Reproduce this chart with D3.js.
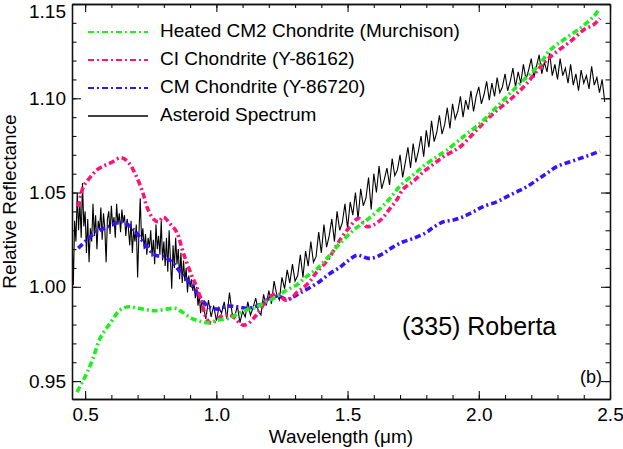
<!DOCTYPE html>
<html>
<head>
<meta charset="utf-8">
<script src="https://cdn.jsdelivr.net/npm/d3@7/dist/d3.min.js"></script>
<style>
body { margin:0; background:#fff; }
svg { display:block; }
</style>
</head>
<body>
<div id="graph"></div>
<script>
// lab spectra, [wavelength um, relative reflectance]
var heatedCM2 = [[0.469,0.9442],[0.490,0.9496],[0.509,0.955],[0.530,0.962],[0.557,0.9727],[0.595,0.9806],[0.633,0.9877],[0.665,0.9894],[0.703,0.9886],[0.740,0.9877],[0.766,0.9873],[0.804,0.988],[0.842,0.9886],[0.868,0.9868],[0.906,0.9833],[0.944,0.9815],[0.970,0.981],[1.008,0.9824],[1.052,0.9835],[1.084,0.9859],[1.116,0.9877],[1.154,0.9894],[1.192,0.9921],[1.230,0.9947],[1.268,0.9983],[1.306,1.001],[1.344,1.0055],[1.383,1.0095],[1.421,1.015],[1.471,1.023],[1.522,1.030],[1.573,1.0354],[1.624,1.0415],[1.662,1.047],[1.700,1.0535],[1.751,1.0595],[1.789,1.064],[1.840,1.069],[1.878,1.0725],[1.941,1.0796],[2.005,1.0867],[2.069,1.0955],[2.132,1.1044],[2.183,1.1114],[2.234,1.1185],[2.272,1.1256],[2.322,1.1309],[2.386,1.1371],[2.437,1.1433],[2.462,1.1477]];

var ciY86162 = [[0.474,1.0425],[0.493,1.053],[0.519,1.058],[0.545,1.062],[0.569,1.064],[0.601,1.066],[0.637,1.0685],[0.665,1.066],[0.697,1.058],[0.722,1.049],[0.735,1.0425],[0.760,1.036],[0.779,1.0345],[0.798,1.037],[0.823,1.0335],[0.849,1.029],[0.874,1.018],[0.906,1.006],[0.925,1.0],[0.944,0.992],[0.963,0.983],[0.982,0.9806],[1.001,0.9824],[1.027,0.985],[1.052,0.985],[1.071,0.9833],[1.090,0.9806],[1.103,0.9797],[1.122,0.9806],[1.147,0.9841],[1.166,0.9877],[1.186,0.992],[1.211,0.9955],[1.236,0.996],[1.262,0.993],[1.287,0.994],[1.306,0.997],[1.331,0.9995],[1.357,1.003],[1.383,1.008],[1.408,1.0115],[1.433,1.016],[1.471,1.0248],[1.509,1.0319],[1.541,1.0363],[1.573,1.032],[1.598,1.0328],[1.630,1.036],[1.662,1.0416],[1.687,1.046],[1.713,1.052],[1.751,1.056],[1.789,1.061],[1.827,1.065],[1.865,1.069],[1.929,1.0743],[1.992,1.0832],[2.056,1.092],[2.132,1.1008],[2.183,1.1079],[2.246,1.1185],[2.297,1.1247],[2.348,1.13],[2.399,1.1362],[2.437,1.139],[2.462,1.1424]];

var cmY86720 = [[0.474,1.0204],[0.506,1.0248],[0.544,1.0292],[0.582,1.0315],[0.637,1.0345],[0.665,1.0328],[0.697,1.0284],[0.735,1.0212],[0.767,1.0168],[0.798,1.016],[0.830,1.0133],[0.862,1.008],[0.900,1.0018],[0.938,0.9947],[0.970,0.9894],[1.008,0.9882],[1.040,0.9898],[1.078,0.9894],[1.116,0.9886],[1.147,0.9894],[1.179,0.9915],[1.211,0.9947],[1.243,0.9947],[1.268,0.9933],[1.293,0.9947],[1.319,0.9968],[1.357,0.9996],[1.395,1.003],[1.433,1.0071],[1.471,1.0104],[1.497,1.0133],[1.535,1.0168],[1.554,1.0163],[1.579,1.0151],[1.605,1.0156],[1.636,1.0177],[1.674,1.0212],[1.713,1.0239],[1.751,1.0257],[1.795,1.0284],[1.827,1.0315],[1.865,1.0345],[1.903,1.0354],[1.941,1.0372],[1.979,1.0398],[2.017,1.0425],[2.068,1.0451],[2.107,1.0478],[2.145,1.0504],[2.183,1.0531],[2.221,1.0566],[2.259,1.0602],[2.297,1.0637],[2.348,1.0663],[2.386,1.0681],[2.424,1.0699],[2.462,1.072]];

// asteroid spectrum: visible part (0.450 um, every 0.005 um)
var asteroidVisStart = 0.45, asteroidVisStep = 0.005;
var asteroidVis = [
  1.028,1.001,1.035,1.024,1.050,1.030,1.045,1.026,1.055,1.032,
  1.040,1.018,1.036,1.013,1.031,1.024,1.044,1.027,1.038,1.020,
  1.035,1.030,1.042,1.025,1.039,1.031,1.013,1.036,1.040,1.028,
  1.043,1.032,1.037,1.026,1.044,1.033,1.039,1.029,1.041,1.034,
  1.038,1.027,1.036,1.031,1.022,1.035,1.018,1.030,1.024,1.033,
  1.005,1.028,1.047,1.025,1.031,1.020,1.028,1.017,1.026,1.021,
  1.030,1.016,1.025,1.012,1.033,1.020,1.027,1.017,1.035,1.014,
  1.024,1.011,1.026,1.008,1.030,1.015,0.999,1.022,1.010,1.026,
  1.012,1.020,1.004,1.018,1.002,1.014,1.003,1.010,0.997,1.006,
  1.000,1.004,0.998,1.002,0.994,1.000,0.990,0.996,0.986,0.993];
// near-infrared part (0.95 um, every 0.01 um)
var asteroidNirStart = 0.95, asteroidNirStep = 0.01;
var asteroidNir = [
  0.990,0.983,0.993,0.984,0.990,  0.982,0.989,0.986,0.992,0.983,
  0.997,0.986,0.984,0.990,0.981,  0.987,0.984,0.992,0.985,0.989,
  0.994,0.987,0.985,0.996,0.990,  0.998,0.991,1.003,0.996,0.993,
  1.005,0.999,1.009,1.002,1.012,  1.003,1.006,1.017,1.005,1.019,
  1.011,1.024,1.013,1.016,1.029,  1.018,1.033,1.021,1.027,1.036,
  1.024,1.040,1.030,1.034,1.044,  1.031,1.045,1.038,1.050,1.036,
  1.052,1.043,1.047,1.058,1.041,  1.060,1.050,1.064,1.052,1.057,
  1.063,1.054,1.068,1.059,1.062,  1.070,1.058,1.066,1.074,1.063,
  1.076,1.066,1.072,1.080,1.069,  1.083,1.074,1.088,1.077,1.082,
  1.091,1.081,1.086,1.095,1.084,  1.097,1.089,1.093,1.101,1.090,
  1.099,1.094,1.104,1.093,1.101,  1.106,1.097,1.102,1.109,1.099,
  1.108,1.101,1.111,1.103,1.106,  1.113,1.104,1.109,1.116,1.106,
  1.114,1.108,1.118,1.110,1.115,  1.121,1.111,1.117,1.123,1.113,
  1.119,1.114,1.124,1.112,1.118,  1.110,1.121,1.112,1.116,1.108,
  1.118,1.107,1.113,1.104,1.115,  1.108,1.112,1.105,1.117,1.107,
  1.111,1.103,1.110,1.098];

var seriesNames = ["Heated CM2 Chondrite (Murchison)", "CI Chondrite (Y-86162)", "CM Chondrite (Y-86720)", "Asteroid Spectrum"];
var seriesColors = ["#1ef01e", "#ff1475", "#3a10ff", "#000000"];
var xTicks = [0.5, 1.0, 1.5, 2.0, 2.5];
var yTicks = [0.95, 1.00, 1.05, 1.10, 1.15];
var objectName = "(335) Roberta";
var panelLabel = "(b)";

var width = 623, height = 449;
var margin = {top:4, left:72, bottom:50, right:13};
var font = "'Liberation Sans', Arial, Helvetica, sans-serif";

var svg = d3.select("#graph").append("svg").attr("width", width).attr("height", height)
    .style("font-family", font);

var x = d3.scaleLinear().domain([0.45, 2.5]).range([margin.left, width - margin.right]);
var y = d3.scaleLinear().domain([0.9405, 1.15]).range([height - margin.bottom, margin.top]);

svg.append("clipPath").attr("id", "plotclip").append("rect")
    .attr("x", x.range()[0]).attr("y", y.range()[1])
    .attr("width", x.range()[1] - x.range()[0]).attr("height", y.range()[0] - y.range()[1]);

var asteroid = asteroidVis.map(function(r, i) { return [asteroidVisStart + i * asteroidVisStep, r] })
    .concat(asteroidNir.map(function(r, i) { return [asteroidNirStart + i * asteroidNirStep, r] }));

var smooth = d3.line().x(function(d) { return x(d[0]) }).y(function(d) { return y(d[1]) }).curve(d3.curveCatmullRom);
var raw = d3.line().x(function(d) { return x(d[0]) }).y(function(d) { return y(d[1]) });

var plot = svg.append("g").attr("clip-path", "url(#plotclip)");
var dash = "6,3,2,3";

plot.append("path").datum(asteroid).attr("d", raw)
    .attr("fill", "none").attr("stroke", seriesColors[3]).attr("stroke-width", 1.1);

[[cmY86720, 2], [ciY86162, 1], [heatedCM2, 0]].forEach(function(s) {
    plot.append("path").datum(s[0]).attr("d", smooth)
        .attr("fill", "none").attr("stroke", seriesColors[s[1]])
        .attr("stroke-width", 3.6).attr("stroke-dasharray", dash);
});

// axes, ticks pointing inward
var xMinor = d3.range(5, 26).map(function(d) { return d / 10 });
var yMinor = d3.range(95, 116).map(function(d) { return d / 100 });

function styleAxis(g) {
    g.attr("font-size", 19).attr("font-family", font);
    g.selectAll("line").attr("stroke", "#111").attr("stroke-width", 1.1);
    g.selectAll(".domain").attr("stroke", "#111").attr("stroke-width", 1.3);
    g.selectAll("text").attr("fill", "#000");
}

var y0 = y.range()[0], y1 = y.range()[1], x0 = x.range()[0], x1 = x.range()[1];

svg.append("g").attr("transform", "translate(0," + y0 + ")")
    .call(d3.axisBottom(x).tickValues(xMinor).tickFormat("").tickSize(-4).tickSizeOuter(0)).call(styleAxis);
svg.append("g").attr("transform", "translate(0," + y0 + ")")
    .call(d3.axisBottom(x).tickValues(xTicks).tickFormat(d3.format(".1f")).tickSize(-8).tickSizeOuter(0).tickPadding(9)).call(styleAxis);
svg.append("g").attr("transform", "translate(0," + y1 + ")")
    .call(d3.axisTop(x).tickValues(xMinor).tickFormat("").tickSize(-4).tickSizeOuter(0)).call(styleAxis);
svg.append("g").attr("transform", "translate(0," + y1 + ")")
    .call(d3.axisTop(x).tickValues(xTicks).tickFormat("").tickSize(-8).tickSizeOuter(0)).call(styleAxis);

svg.append("g").attr("transform", "translate(" + x0 + ",0)")
    .call(d3.axisLeft(y).tickValues(yMinor).tickFormat("").tickSize(-4.5).tickSizeOuter(0)).call(styleAxis);
var yAxisG = svg.append("g").attr("transform", "translate(" + x0 + ",0)")
    .call(d3.axisLeft(y).tickValues(yTicks).tickFormat(d3.format(".2f")).tickSize(-9).tickSizeOuter(0).tickPadding(6)).call(styleAxis);
yAxisG.selectAll("text").filter(function(d) { return d === 1.15 }).attr("dy", "0.72em");
svg.append("g").attr("transform", "translate(" + x1 + ",0)")
    .call(d3.axisRight(y).tickValues(yMinor).tickFormat("").tickSize(-4.5).tickSizeOuter(0)).call(styleAxis);
svg.append("g").attr("transform", "translate(" + x1 + ",0)")
    .call(d3.axisRight(y).tickValues(yTicks).tickFormat("").tickSize(-9).tickSizeOuter(0)).call(styleAxis);

// axis titles
svg.append("text").attr("x", (x0 + x1) / 2).attr("y", 443).attr("text-anchor", "middle")
    .attr("font-size", 19).text("Wavelength (\u03bcm)");
svg.append("text").attr("transform", "translate(16," + ((y0 + y1) / 2) + ") rotate(-90)")
    .attr("text-anchor", "middle").attr("font-size", 19).text("Relative Reflectance");

// legend
var legend = svg.append("g");
seriesNames.forEach(function(name, i) {
    var ly = 32 + i * 28;
    legend.append("line").attr("x1", 88).attr("x2", 148).attr("y1", ly).attr("y2", ly)
        .attr("stroke", seriesColors[i]).attr("stroke-width", i === 3 ? 1.6 : 2.2)
        .attr("stroke-dasharray", i === 3 ? null : dash);
    legend.append("text").attr("x", 160).attr("y", ly + 5).attr("font-size", 19).text(name);
});

svg.append("text").attr("x", 402).attr("y", 335).attr("font-size", 25).text(objectName);
svg.append("text").attr("x", 580).attr("y", 383).attr("font-size", 18).text(panelLabel);
</script>
</body>
</html>
